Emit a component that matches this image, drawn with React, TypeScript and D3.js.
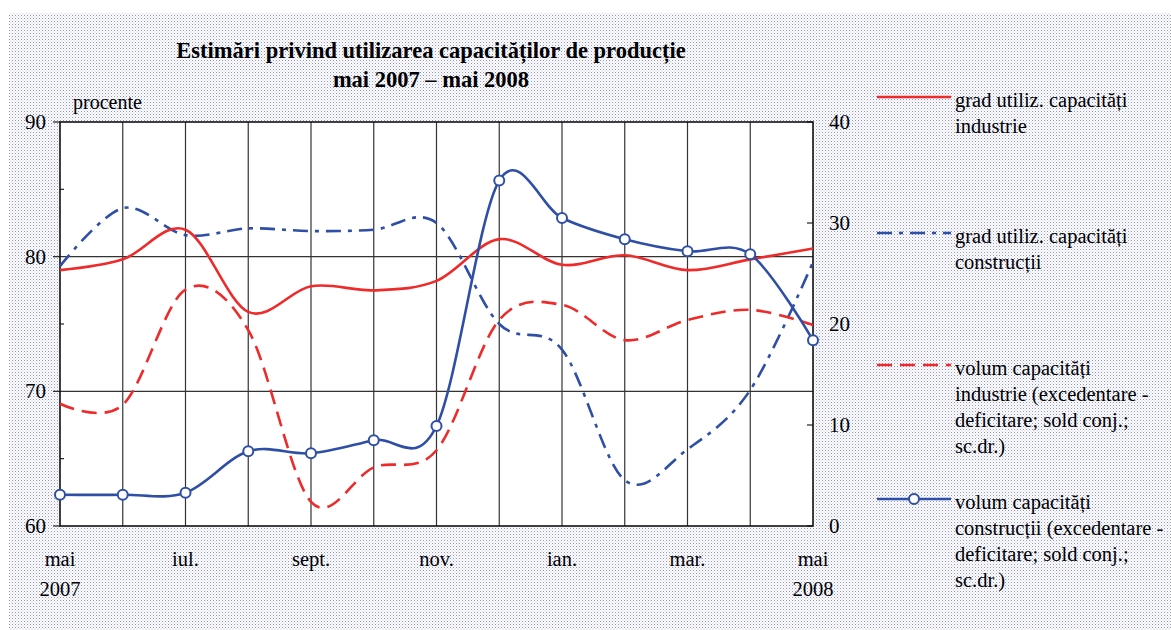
import React, { useRef, useEffect } from 'react';
import * as d3 from 'd3';

const months = ['mai', 'iun', 'iul.', 'aug', 'sept.', 'oct', 'nov.', 'dec', 'ian.', 'feb', 'mar.', 'apr', 'mai'];
const shownLabels = ['mai', 'iul.', 'sept.', 'nov.', 'ian.', 'mar.', 'mai'];

// left axis (procente)
const gradIndustrie = [79.0, 79.8, 82.0, 75.9, 77.8, 77.5, 78.2, 81.3, 79.4, 80.1, 79.0, 79.8, 80.6];
const gradConstructii = [79.3, 83.6, 81.6, 82.1, 81.9, 82.0, 82.5, 75.0, 73.1, 63.4, 65.7, 70.1, 79.6];
// right axis (sold conjunctural)
const volumIndustrie = [12.1, 12.0, 23.4, 19.4, 2.4, 5.8, 7.5, 20.4, 21.9, 18.4, 20.4, 21.4, 19.9];
const volumConstructii = [3.1, 3.1, 3.3, 7.4, 7.2, 8.5, 9.9, 34.2, 30.5, 28.4, 27.2, 26.9, 18.4];

const leftTicks = [90, 80, 70, 60];
const rightTicks = [40, 30, 20, 10, 0];

const legendItems = [
  { lines: ['grad utiliz. capacități', 'industrie'] },
  { lines: ['grad utiliz. capacități', 'construcții'] },
  { lines: ['volum capacități', 'industrie (excedentare -', 'deficitare; sold conj.;', 'sc.dr.)'] },
  { lines: ['volum capacități', 'construcții (excedentare -', 'deficitare; sold conj.;', 'sc.dr.)'] },
];

const RED = '#ee2a2a';
const BLUE = '#2f4fa6';
const FONT = '"Liberation Serif", "Times New Roman", serif';

const App = () => {
  const svgRef = useRef(null);

  const width = 1171;
  const height = 630;
  const plot = { left: 60, right: 813, top: 122, bottom: 526 };

  useEffect(() => {
    const svg = d3.select(svgRef.current);
    svg.selectAll('*').remove();
    svg.attr('font-family', FONT);

    const defs = svg.append('defs');
    const pat = defs.append('pattern')
      .attr('id', 'dots')
      .attr('width', 3)
      .attr('height', 3)
      .attr('patternUnits', 'userSpaceOnUse');
    pat.append('rect').attr('width', 3).attr('height', 3).attr('fill', '#ffffff');
    pat.append('rect').attr('width', 1).attr('height', 1).attr('fill', '#8d93c6');
    pat.append('rect').attr('x', 1.5).attr('y', 1.5).attr('width', 1).attr('height', 1).attr('fill', '#b8bcdc');

    svg.append('rect')
      .attr('x', 9).attr('y', 13)
      .attr('width', width - 9).attr('height', height - 13)
      .attr('fill', 'url(#dots)');

    const x = d3.scalePoint().domain(months.map((m, i) => String(i))).range([plot.left, plot.right]);
    const yL = d3.scaleLinear().domain([60, 90]).range([plot.bottom, plot.top]);
    const yR = d3.scaleLinear().domain([0, 40]).range([plot.bottom, plot.top]);

    svg.append('rect')
      .attr('x', plot.left).attr('y', plot.top)
      .attr('width', plot.right - plot.left).attr('height', plot.bottom - plot.top)
      .attr('fill', '#ffffff');

    // grid
    const g = svg.append('g');
    months.forEach((m, i) => {
      if (i === 0 || i === months.length - 1) return;
      g.append('line')
        .attr('x1', x(String(i))).attr('x2', x(String(i)))
        .attr('y1', plot.top).attr('y2', plot.bottom)
        .attr('stroke', '#333').attr('stroke-width', 1.2);
    });
    [80, 70].forEach(v => {
      g.append('line')
        .attr('x1', plot.left).attr('x2', plot.right)
        .attr('y1', yL(v)).attr('y2', yL(v))
        .attr('stroke', '#333').attr('stroke-width', 1.2);
    });

    // left axis ticks
    leftTicks.forEach(v => {
      g.append('line').attr('x1', plot.left - 7).attr('x2', plot.left)
        .attr('y1', yL(v)).attr('y2', yL(v)).attr('stroke', '#222').attr('stroke-width', 1.2);
      g.append('text').attr('x', 46).attr('y', yL(v) + 7)
        .attr('text-anchor', 'end').attr('font-size', 21).text(v);
    });
    [85, 75, 65].forEach(v => {
      g.append('line').attr('x1', plot.left).attr('x2', plot.left + 4)
        .attr('y1', yL(v)).attr('y2', yL(v)).attr('stroke', '#222').attr('stroke-width', 1.2);
    });
    rightTicks.forEach(v => {
      g.append('line').attr('x1', plot.right - 6).attr('x2', plot.right)
        .attr('y1', yR(v)).attr('y2', yR(v)).attr('stroke', '#222').attr('stroke-width', 1.2);
      g.append('text').attr('x', 829).attr('y', yR(v) + 7)
        .attr('text-anchor', 'start').attr('font-size', 21).text(v);
    });

    // x labels
    months.forEach((m, i) => {
      if (i % 2 !== 0) return;
      g.append('text').attr('x', x(String(i))).attr('y', 566)
        .attr('text-anchor', 'middle').attr('font-size', 20.5).text(shownLabels[i / 2]);
    });
    g.append('text').attr('x', plot.left).attr('y', 596).attr('text-anchor', 'middle').attr('font-size', 20.5).text('2007');
    g.append('text').attr('x', plot.right).attr('y', 596).attr('text-anchor', 'middle').attr('font-size', 20.5).text('2008');

    // plot frame
    svg.append('rect')
      .attr('x', plot.left).attr('y', plot.top)
      .attr('width', plot.right - plot.left).attr('height', plot.bottom - plot.top)
      .attr('fill', 'none').attr('stroke', '#111').attr('stroke-width', 1.6);

    const lineL = d3.line<number>().x((d, i) => x(String(i))).y(d => yL(d)).curve(d3.curveCardinal.tension(0));
    const lineR = d3.line<number>().x((d, i) => x(String(i))).y(d => yR(d)).curve(d3.curveCardinal.tension(0));

    const series = svg.append('g');
    series.append('path').attr('d', lineL(gradConstructii))
      .attr('fill', 'none').attr('stroke', BLUE).attr('stroke-width', 2.6)
      .attr('stroke-dasharray', '15 7 4 7');
    series.append('path').attr('d', lineR(volumIndustrie))
      .attr('fill', 'none').attr('stroke', RED).attr('stroke-width', 2.6)
      .attr('stroke-dasharray', '15 8');
    series.append('path').attr('d', lineL(gradIndustrie))
      .attr('fill', 'none').attr('stroke', RED).attr('stroke-width', 2.6);
    series.append('path').attr('d', lineR(volumConstructii))
      .attr('fill', 'none').attr('stroke', BLUE).attr('stroke-width', 2.6);
    series.selectAll('circle.pt').data(volumConstructii).enter().append('circle')
      .attr('class', 'pt')
      .attr('cx', (d, i) => x(String(i))).attr('cy', d => yR(d)).attr('r', 5)
      .attr('fill', '#fff').attr('stroke', BLUE).attr('stroke-width', 2);

    // titles
    const t = svg.append('text').attr('text-anchor', 'middle').attr('font-weight', 'bold').attr('font-size', 22.5);
    t.append('tspan').attr('x', 431).attr('y', 58).text('Estimări privind utilizarea capacităților de producție');
    t.append('tspan').attr('x', 431).attr('y', 87).text('mai 2007 – mai 2008');
    svg.append('text').attr('x', 73).attr('y', 109).attr('font-size', 20).text('procente');

    // legend
    const legY = [97, 233, 365, 499];
    const leg = svg.append('g');
    legendItems.forEach((item, k) => {
      const ly = legY[k];
      const ln = leg.append('line').attr('x1', 877).attr('x2', 951).attr('y1', ly).attr('y2', ly)
        .attr('stroke', k === 0 || k === 2 ? RED : BLUE).attr('stroke-width', 2.6);
      if (k === 1) ln.attr('stroke-dasharray', '15 7 4 7');
      if (k === 2) ln.attr('stroke-dasharray', '15 8');
      if (k === 3) {
        leg.append('circle').attr('cx', 914).attr('cy', ly).attr('r', 5)
          .attr('fill', '#fff').attr('stroke', BLUE).attr('stroke-width', 2);
      }
      item.lines.forEach((s, j) => {
        leg.append('text').attr('x', 955).attr('y', ly + 10 + j * 26).attr('font-size', 20.5).text(s);
      });
    });
  }, []);

  return (
    <svg
      ref={svgRef}
      width={width}
      height={height}
      style={{ position: 'absolute', left: 0, top: 0, fontFamily: FONT }}
    />
  );
};

export default App;
